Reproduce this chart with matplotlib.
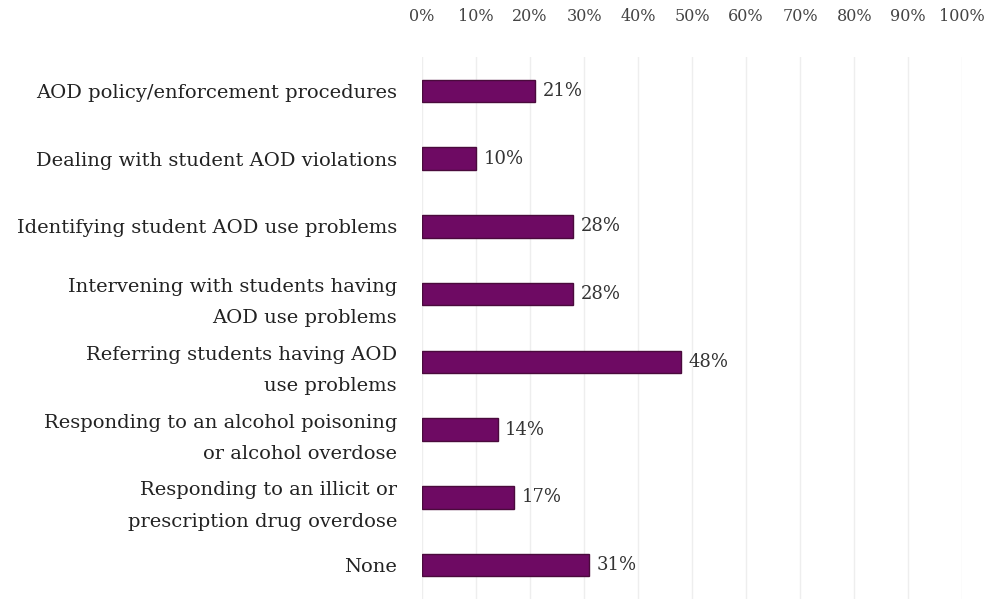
import numpy as np
import matplotlib.pyplot as plt

categories = [
    "AOD policy/enforcement procedures",
    "Dealing with student AOD violations",
    "Identifying student AOD use problems",
    "Intervening with students having\nAOD use problems",
    "Referring students having AOD\nuse problems",
    "Responding to an alcohol poisoning\nor alcohol overdose",
    "Responding to an illicit or\nprescription drug overdose",
    "None",
]
values = [21, 10, 28, 28, 48, 14, 17, 31]

plt.rcParams['font.family'] = ['DejaVu Serif']

fig = plt.figure(figsize=(9.92, 6.10), dpi=100)
ax = fig.add_axes([0.4254, 0.018, 0.5446, 0.8886])

y = np.arange(len(categories))
ax.barh(y, np.array(values) / 100, height=0.33, color='#6e0a63',
        edgecolor='#4a0a3c', linewidth=1, zorder=3)

for yi, v in zip(y, values):
    ax.text(v / 100 + 0.014, yi, f"{v}%", va='center', ha='left',
            fontsize=13, color='#333333')

ax.set_xlim(0, 1)
ax.set_ylim(len(categories) - 0.5, -0.5)
ax.set_yticks(y)
ax.set_yticklabels(categories, fontsize=14, color='#222222', linespacing=1.95)
ax.set_xticks(np.linspace(0, 1, 11))
ax.set_xticklabels([f"{int(t)}%" for t in np.linspace(0, 100, 11)],
                   fontsize=11.5, color='#444444')
ax.xaxis.tick_top()
ax.tick_params(axis='x', length=0, pad=23)
ax.tick_params(axis='y', length=0, pad=18)
ax.grid(axis='x', color='#eeeeee', linewidth=1, zorder=0)
for s in ax.spines.values():
    s.set_visible(False)

fig.savefig('out.png', dpi=100)
